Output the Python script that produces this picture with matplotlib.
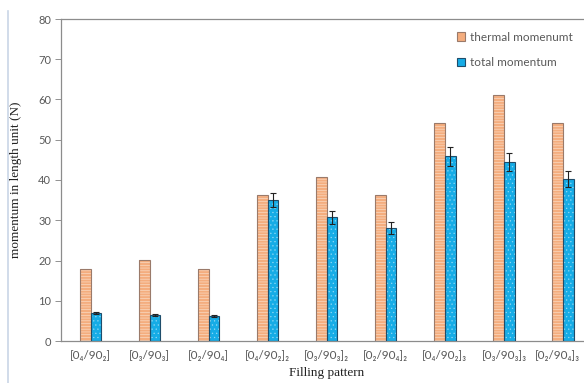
import matplotlib
matplotlib.use("Agg")
import matplotlib.pyplot as plt
import matplotlib.lines as mlines
import matplotlib.patches as mpatches
import numpy as np

plt.rcParams["hatch.linewidth"] = 0.4

# Data
patterns = ["[0₄/90₂]", "[0₃/90₃]", "[0₂/90₄]",
            "[0₄/90₂]₂", "[0₃/90₃]₂", "[0₂/90₄]₂",
            "[0₄/90₂]₃", "[0₃/90₃]₃", "[0₂/90₄]₃"]
thermal = [18.0, 20.2, 18.0, 36.2, 40.8, 36.2, 54.2, 61.0, 54.2]
total = [6.9, 6.5, 6.2, 35.1, 30.7, 28.0, 45.9, 44.4, 40.3]
total_err = [0.3, 0.3, 0.3, 1.7, 1.6, 1.5, 2.3, 2.25, 2.0]
series_names = ["thermal momenumt", "total momentum"]
yticks = [0, 10, 20, 30, 40, 50, 60, 70, 80]

orange = "#f4ad7e"
orange_edge = "#9a7a6a"
blue = "#16ace6"
blue_edge = "#1f4d6b"
gray_text = "#595959"
sans = ["Lato", "DejaVu Sans"]
serif = ["Liberation Serif", "DejaVu Serif"]

fig = plt.figure(figsize=(5.84, 3.83), dpi=100)
ax = fig.add_axes([61 / 584, 1 - 341 / 383, (592.6 - 61) / 584, (341 - 19) / 383])

x = np.arange(len(patterns))
w = 0.18

# thermal bars: orange fill with thin white horizontal stripes, then outline
ax.bar(x - w / 2, thermal, w, color=orange, edgecolor="#fbe3d2", hatch="------",
       linewidth=0, zorder=2)
ax.bar(x - w / 2, thermal, w, fill=False, edgecolor=orange_edge, linewidth=0.8,
       zorder=3)

# total bars: blue fill with light dots, then outline + error bars
ax.bar(x + w / 2, total, w, color=blue, edgecolor="#8fd8f5", hatch="....",
       linewidth=0, zorder=2)
ax.bar(x + w / 2, total, w, fill=False, edgecolor=blue_edge, linewidth=0.8,
       zorder=3)
ax.errorbar(x + w / 2, total, yerr=total_err, fmt="none", ecolor="#222222",
            elinewidth=0.8, capsize=2.5, capthick=0.8, zorder=4)

ax.set_xlim(-0.5, len(patterns) - 0.5)
ax.set_ylim(0, 80)
ax.set_yticks(yticks)
ax.set_xticks(x)
# all category labels as tick labels except the rightmost one, which is
# placed with a small leftward offset so it stays inside the figure
ax.set_xticklabels(patterns[:-1] + [""], family=sans, fontsize=8.5,
                   color=gray_text)
ax.annotate(patterns[-1], xy=(x[-1], 0), xycoords=("data", "axes fraction"),
            xytext=(-4, -6.5), textcoords="offset points", ha="center",
            va="top", family=sans, fontsize=8.5, color=gray_text)
for t in ax.get_yticklabels():
    t.set_family(sans)
    t.set_fontsize(8)
    t.set_color(gray_text)
ax.tick_params(axis="y", length=4, width=0.6, color="#808080", pad=3)
ax.tick_params(axis="x", length=0, pad=6.5)

for side in ["left", "bottom", "top"]:
    ax.spines[side].set_color("#8c8c8c")
    ax.spines[side].set_linewidth(0.9)
ax.spines["right"].set_visible(False)

ax.set_ylabel("momentum in length unit (N)", family=serif, fontsize=9.5,
              color="#222222", labelpad=12)
ax.set_xlabel("Filling pattern", family=serif, fontsize=9.5, color="#222222",
              labelpad=4.5)

handles = [mpatches.Patch(facecolor=orange, edgecolor=orange_edge, linewidth=0.8),
           mpatches.Patch(facecolor=blue, edgecolor=blue_edge, linewidth=0.8)]
leg = ax.legend(handles, series_names, loc="upper left",
                bbox_to_anchor=((452 - 61) / (592.6 - 61), 1 - 8 / 322),
                frameon=False, prop={"family": sans, "size": 8.5},
                handlelength=0.7, handleheight=0.7, handletextpad=0.4,
                labelspacing=1.2, borderaxespad=0)
for t in leg.get_texts():
    t.set_color(gray_text)

# page margin line at the left
fig.add_artist(mlines.Line2D([8 / 584, 8 / 584], [0, 1 - 11 / 383],
                             color="#c9d6e6", linewidth=1.2))

fig.savefig("out.png", dpi=100)
